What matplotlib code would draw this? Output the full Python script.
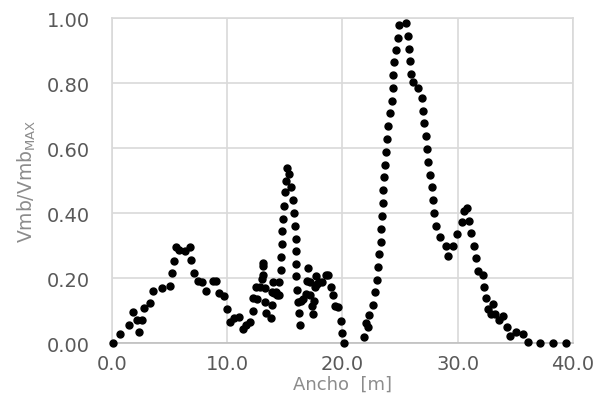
import numpy as np
import matplotlib.pyplot as plt
from matplotlib.ticker import FormatStrFormatter

# Ancho [m] and normalised Vmb
ancho = [0.06, 0.69, 1.44, 1.84, 2.19, 2.31, 2.65, 2.80, 3.29, 3.58, 4.36, 5.03,
         5.17, 5.38, 5.55, 5.84, 6.33, 6.77, 6.90, 7.14, 7.48, 7.83, 8.20, 8.79,
         9.07, 9.25, 9.72, 10.00, 10.24, 10.58, 11.04, 11.33, 11.67, 11.97, 12.20,
         12.20, 12.49, 12.60, 12.84, 12.98, 13.07, 13.12, 13.12, 13.27, 13.27,
         13.41, 13.76, 13.85, 13.85, 13.99, 14.08, 14.23, 14.34, 14.52, 14.52,
         14.64, 14.64, 14.72, 14.78, 14.86, 14.92, 15.00, 15.10, 15.20, 15.37,
         15.50, 15.67, 15.79, 15.87, 15.96, 16.00, 16.00, 16.00, 16.07, 16.15,
         16.24, 16.30, 16.44, 16.59, 16.83, 16.93, 17.02, 17.18, 17.18, 17.40,
         17.46, 17.53, 17.60, 17.70, 17.80, 17.97, 18.27, 18.55, 18.76, 18.97,
         19.20, 19.35, 19.63, 19.84, 19.93, 20.10,
         21.86, 22.03, 22.23, 22.32, 22.61, 22.81, 22.96, 23.10, 23.19, 23.31,
         23.36, 23.43, 23.48, 23.54, 23.63, 23.69, 23.77, 23.89, 23.98, 24.12,
         24.27, 24.36, 24.41, 24.50, 24.61, 24.79, 24.93, 25.50, 25.65, 25.76,
         25.84, 25.94, 26.14, 26.52, 26.87, 27.01, 27.10, 27.22, 27.31, 27.39,
         27.59, 27.74, 27.82, 27.94, 28.11, 28.46, 28.98, 29.18, 29.56, 29.96,
         30.35, 30.54, 30.77, 30.95, 31.12, 31.41, 31.58, 31.78, 32.16, 32.28,
         32.50, 32.65, 32.85, 33.08, 33.23, 33.60, 33.90, 34.30, 34.53, 35.10,
         35.63, 36.12, 37.10, 38.30, 39.40]
vmb = [0.000, 0.028, 0.057, 0.094, 0.072, 0.035, 0.071, 0.108, 0.122, 0.159, 0.168, 0.176,
       0.215, 0.253, 0.294, 0.286, 0.284, 0.297, 0.256, 0.217, 0.190, 0.187, 0.161, 0.192,
       0.192, 0.153, 0.146, 0.105, 0.066, 0.076, 0.081, 0.043, 0.055, 0.066, 0.099,
       0.140, 0.173, 0.137, 0.173, 0.197, 0.238, 0.246, 0.209, 0.168, 0.127,
       0.091, 0.076, 0.117, 0.156, 0.189, 0.154, 0.158, 0.148, 0.148, 0.187,
       0.226, 0.266, 0.305, 0.345, 0.382, 0.423, 0.464, 0.500, 0.540, 0.520,
       0.479, 0.440, 0.400, 0.360, 0.320, 0.284, 0.243, 0.205, 0.164, 0.125,
       0.092, 0.055, 0.130, 0.137, 0.151, 0.192, 0.230, 0.189, 0.148, 0.113,
       0.089, 0.130, 0.171, 0.207, 0.182, 0.187, 0.187, 0.209, 0.209, 0.171,
       0.148, 0.115, 0.110, 0.069, 0.031, 0.000,
       0.020, 0.062, 0.048, 0.086, 0.117, 0.156, 0.195, 0.233, 0.274, 0.312,
       0.351, 0.392, 0.431, 0.471, 0.510, 0.549, 0.589, 0.628, 0.669, 0.708,
       0.746, 0.785, 0.825, 0.864, 0.902, 0.940, 0.980, 0.985, 0.946, 0.906,
       0.867, 0.828, 0.804, 0.785, 0.754, 0.715, 0.676, 0.636, 0.597, 0.556,
       0.518, 0.479, 0.440, 0.400, 0.361, 0.325, 0.298, 0.269, 0.298, 0.335,
       0.371, 0.407, 0.414, 0.376, 0.338, 0.300, 0.261, 0.222, 0.209, 0.171,
       0.140, 0.105, 0.089, 0.120, 0.089, 0.072, 0.082, 0.048, 0.022, 0.033,
       0.027, 0.002, 0.000, 0.000, 0.000]

x_ticks = [0, 10, 20, 30, 40]
y_ticks = [0, 0.2, 0.4, 0.6, 0.8, 1.0]

plt.rcParams['mathtext.default'] = 'regular'

fig = plt.figure(figsize=(6.05, 4.14), dpi=100)
ax = fig.add_axes([0.185, 0.169, 0.762, 0.785])

ax.plot(ancho, vmb, 'o', color='black', markersize=5, clip_on=False, zorder=3)

ax.set_xlim(0, 40)
ax.set_ylim(0, 1)
ax.set_xticks(x_ticks)
ax.set_yticks(y_ticks)
ax.xaxis.set_major_formatter(FormatStrFormatter('%.1f'))
ax.yaxis.set_major_formatter(FormatStrFormatter('%.2f'))

ax.grid(True, color='#D9D9D9', linewidth=1.2)
for s in ['top', 'right', 'left']:
    ax.spines[s].set_color('#D9D9D9')
    ax.spines[s].set_linewidth(1.2)
ax.spines['bottom'].set_color('#BFBFBF')
ax.spines['bottom'].set_linewidth(1.2)
ax.set_axisbelow(True)

ax.tick_params(length=0, labelsize=14, colors='#595959')
ax.tick_params(axis='y', pad=16)
ax.tick_params(axis='x', pad=8)

ax.set_xlabel('Ancho  [m]', fontsize=13, color='#8C8C8C', labelpad=1)
ax.set_ylabel('Vmb/Vmb$_{MAX}$', fontsize=13.5, color='#8C8C8C', labelpad=6)

fig.savefig('out.png', dpi=100)
